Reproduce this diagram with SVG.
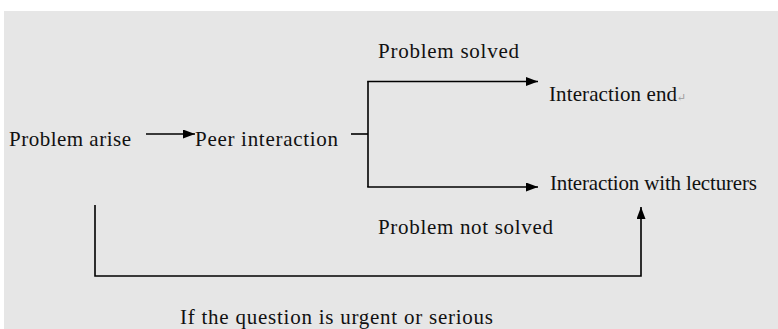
<svg xmlns="http://www.w3.org/2000/svg" width="778" height="329" viewBox="0 0 778 329">
<style>
.t{font-family:"Liberation Serif","DejaVu Serif",serif;font-size:21px;fill:#111}
.c{fill:none;stroke:#000;stroke-width:1.6}
.m{fill:#999;font-size:11px}
</style>
<defs>
<marker id="ah" viewBox="0 0 12 9" refX="12" refY="4.5" markerWidth="12" markerHeight="9" markerUnits="userSpaceOnUse" orient="auto">
<path d="M0,0 L12,4.5 L0,9 Z" fill="#000"/>
</marker>
</defs>
<rect x="0" y="0" width="778" height="329" fill="#fff"/>
<rect x="4" y="11" width="774" height="318" fill="#e6e6e6"/>
<g id="connectors">
<line class="c" x1="146" y1="134" x2="195" y2="134" marker-end="url(#ah)"/>
<line class="c" x1="351" y1="134" x2="368" y2="134"/>
<line class="c" x1="368" y1="81.5" x2="368" y2="187"/>
<line class="c" x1="367.2" y1="81.5" x2="538" y2="81.5" marker-end="url(#ah)"/>
<line class="c" x1="367.2" y1="187" x2="538" y2="187" marker-end="url(#ah)"/>
<path class="c" d="M95,205 V276 H641 V207" marker-end="url(#ah)"/>
</g>
<g id="problem-arise"><text class="t" x="9" y="146" textLength="122">Problem arise</text></g>
<g id="peer-interaction"><text class="t" x="195" y="146" textLength="143">Peer interaction</text></g>
<g id="label-solved"><text class="t" x="378" y="58" textLength="141">Problem solved</text></g>
<g id="interaction-end"><text class="t" x="549" y="101" textLength="128">Interaction end</text><text class="t m" x="677" y="101">↵</text></g>
<g id="interaction-lecturers"><text class="t" x="550" y="190" textLength="207">Interaction with lecturers</text></g>
<g id="label-not-solved"><text class="t" x="378" y="234" textLength="175">Problem not solved</text></g>
<g id="label-urgent"><text class="t" x="180" y="324" textLength="313">If the question is urgent or serious</text></g>
</svg>
